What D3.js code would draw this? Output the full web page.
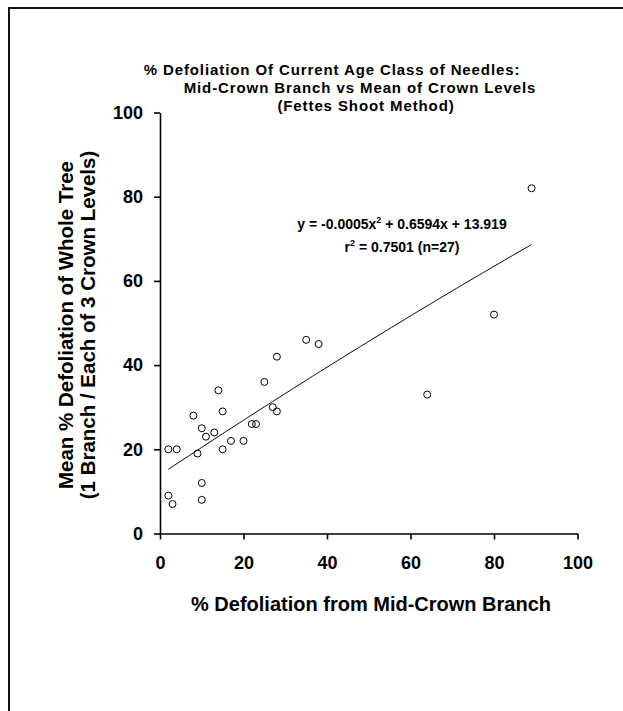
<!DOCTYPE html>
<html>
<head>
<meta charset="utf-8">
<script src="https://cdn.jsdelivr.net/npm/d3@7"></script>
<style>
  html, body { margin: 0; padding: 0; background: #fff; }
  svg { display: block; }
  text { font-family: "Liberation Sans", Arial, sans-serif; font-weight: bold; fill: #000; }
</style>
</head>
<body>
<script>
// % defoliation of the mid-crown branch (x) vs whole-tree mean (y)
const branchDefol = [89, 80, 64, 35, 38, 28, 25, 14, 27, 28, 8, 15, 10, 22, 23, 11, 13, 17, 20, 2, 4, 9, 15, 10, 2, 3, 10];
const treeDefol   = [82, 52, 33, 46, 45, 42, 36, 34, 30, 29, 28, 29, 25, 26, 26, 23, 24, 22, 22, 20, 20, 19, 20, 12, 9, 7, 8];

// quadratic fit: y = a x^2 + b x + c
const fitCoef = [-0.0005, 0.6594, 13.919];

const xTicks = [0, 20, 40, 60, 80, 100];
const yTicks = [0, 20, 40, 60, 80, 100];

const titleLines = [
  "% Defoliation Of Current Age Class of Needles:",
  "Mid-Crown Branch vs Mean of Crown Levels",
  "(Fettes Shoot Method)"
];
// horizontal centre of each title line
const titleCx = [332, 360, 366];
const xTitle = "% Defoliation from Mid-Crown Branch";
const yTitleLines = ["Mean % Defoliation of Whole Tree", "(1 Branch / Each of 3 Crown Levels)"];

const W = 623, H = 711;
const svg = d3.select("body").append("svg").attr("width", W).attr("height", H);
svg.append("rect").attr("width", W).attr("height", H).attr("fill", "#fff");

// page frame (runs off the right and bottom edges)
svg.append("rect")
  .attr("x", 9).attr("y", 8).attr("width", 800).attr("height", 900)
  .attr("fill", "none").attr("stroke", "#111").attr("stroke-width", 2);

const x = d3.scaleLinear().domain([0, 100]).range([160, 577.5]);
const y = d3.scaleLinear().domain([0, 100]).range([533.5, 112.5]);

// title
const title = svg.append("text").attr("text-anchor", "middle")
  .style("font-size", "15px").style("letter-spacing", "0.9px");
titleLines.forEach((t, i) => {
  title.append("tspan").attr("x", titleCx[i]).attr("y", 75 + i * 18).text(t);
});

// axes
const xAxis = d3.axisBottom(x).tickValues(xTicks).tickSize(6).tickSizeOuter(0).tickPadding(17);
const yAxis = d3.axisLeft(y).tickValues(yTicks).tickSize(6).tickSizeOuter(0).tickPadding(11);

const gx = svg.append("g").attr("transform", `translate(0,${y(0)})`).call(xAxis);
const gy = svg.append("g").attr("transform", `translate(${x(0)},0)`).call(yAxis);
[gx, gy].forEach(g => {
  g.select(".domain").attr("stroke", "#000").attr("stroke-width", 1.6);
  g.selectAll(".tick line").attr("stroke", "#000").attr("stroke-width", 1.6);
  g.selectAll(".tick text")
    .attr("fill", "#000")
    .style("font-family", "'Liberation Sans', Arial, sans-serif")
    .style("font-weight", "bold")
    .style("font-size", "18px");
});

// axis titles
svg.append("text").attr("x", 371).attr("y", 611).attr("text-anchor", "middle")
  .style("font-size", "20px").text(xTitle);

const yt = svg.append("text").attr("text-anchor", "middle")
  .attr("transform", `translate(0,325) rotate(-90)`)
  .style("font-size", "20.5px");
yTitleLines.forEach((t, i) => {
  yt.append("tspan").attr("x", 0).attr("y", 73 + i * 22).text(t);
});

// fitted curve over the observed range
const fit = v => fitCoef[0] * v * v + fitCoef[1] * v + fitCoef[2];
const xMin = d3.min(branchDefol), xMax = d3.max(branchDefol);
const curve = d3.range(xMin, xMax + 0.001, 0.5).map(v => [v, fit(v)]);
svg.append("path")
  .attr("d", d3.line().x(d => x(d[0])).y(d => y(d[1]))(curve))
  .attr("fill", "none").attr("stroke", "#000").attr("stroke-width", 1);

// observations
svg.append("g").selectAll("circle")
  .data(branchDefol.map((v, i) => [v, treeDefol[i]]))
  .join("circle")
  .attr("cx", d => x(d[0])).attr("cy", d => y(d[1])).attr("r", 3.5)
  .attr("fill", "none").attr("stroke", "#000").attr("stroke-width", 1);

// equation label
const eq = svg.append("text").attr("text-anchor", "middle").style("font-size", "14px");
const l1 = eq.append("tspan").attr("x", 402).attr("y", 229);
l1.append("tspan").text("y = -0.0005x");
l1.append("tspan").attr("dy", -6).style("font-size", "9px").text("2");
l1.append("tspan").attr("dy", 6).text(" + 0.6594x + 13.919");
const l2 = eq.append("tspan").attr("x", 402).attr("y", 252);
l2.append("tspan").text("r");
l2.append("tspan").attr("dy", -6).style("font-size", "9px").text("2");
l2.append("tspan").attr("dy", 6).text(" = 0.7501 (n=27)");
</script>
</body>
</html>
